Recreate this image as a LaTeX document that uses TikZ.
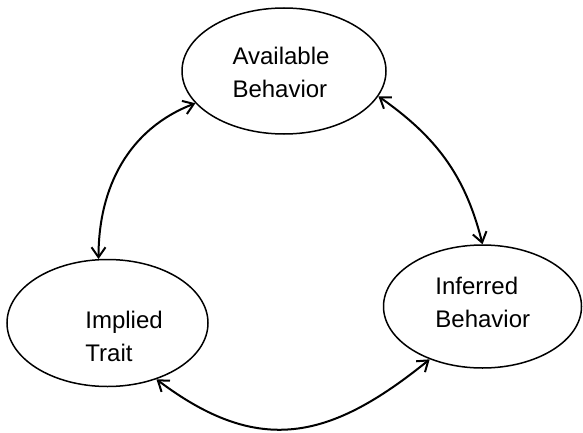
\documentclass[tikz,border=0pt]{standalone}
\usepackage{fontspec}
\setmainfont{Liberation Sans}
\usetikzlibrary{shapes.geometric,arrows.meta}

\begin{document}
\begin{tikzpicture}[x=0.5pt,y=0.5pt,
    state/.style={draw,ellipse,line width=0.75pt,inner sep=0pt},
    lbl/.style={inner sep=0pt,align=left,font=\fontsize{12}{16.5}\selectfont},
    link/.style={line width=1pt,{Straight Barb[length=5pt,width=7pt]}-{Straight Barb[length=5pt,width=7pt]}}]
    \useasboundingbox(0,0)rectangle(583,-433);

    \node[state,minimum width=102pt,minimum height=63pt](avail)at(284,-71){};
    \node[state,minimum width=100.5pt,minimum height=63.5pt](implied)at(107.5,-323){};
    \node[state,minimum width=99pt,minimum height=61.5pt](inferred)at(482.5,-306.5){};

    \node[lbl](availtxt)at(281,-72){Available\\Behavior};
    \node[lbl,anchor=west](impliedtxt)at(85,-336){Implied\\Trait};
    \node[lbl,anchor=west](inferredtxt)at(435,-302){Inferred\\Behavior};

    \draw[link](avail.200)to[out=201,in=90](implied.98);
    \draw[link](avail.345)to[out=-35,in=104](inferred.90);
    \draw[link](implied.311)to[out=-37,in=219,looseness=1.2](inferred.225);
\end{tikzpicture}
\end{document}
